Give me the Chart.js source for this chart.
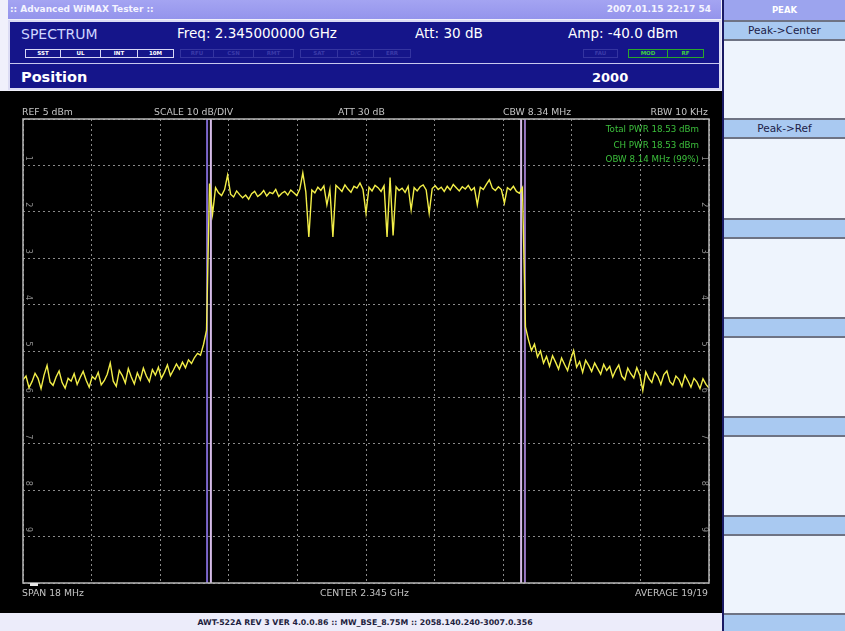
<!DOCTYPE html>
<html>
<head>
<meta charset="utf-8">
<title>Advanced WiMAX Tester - Spectrum</title>
<script src="https://cdn.jsdelivr.net/npm/chart.js@4.4.1/dist/chart.umd.min.js"></script>
<style>
  html, body { margin: 0; padding: 0; }
  body {
    width: 845px; height: 631px; position: relative; overflow: hidden;
    background: #000; font-family: "DejaVu Sans", Verdana, sans-serif;
  }
  .abs { position: absolute; white-space: nowrap; line-height: 1; }
  .hdr { color: #ffffff; font-size: 13.5px; }
  .lbl { color: #c4c4c4; font-size: 9.3px; }
  .grn { color: #3cc03c; font-size: 8.7px; text-align: right; right: 146px; }
  .btn {
    position: absolute; box-sizing: border-box; height: 9px;
    border: 1px solid #d8d8f6; background: #15158a;
    color: #ffffff; font-size: 5.5px; font-weight: bold; text-align: center; line-height: 7px;
  }
  .btn.dim { border-color: #3434a0; color: #3a3aa8; }
  .btn.on { border-color: #2aa82a; color: #40d040; }
  .side {
    position: absolute; left: 724px; width: 121px; box-sizing: border-box;
    background: #a9c9f1; border-top: 2px solid #6e7384; border-bottom: 2px solid #6e7384;
    color: #1c1c48; font-size: 10.5px; text-align: center;
  }
</style>
</head>
<body>
  <!-- top status area -->
  <div class="abs" style="left:0;top:0;width:722px;height:91px;background:#f0f0fb;"></div>
  <div class="abs" style="left:8px;top:0;width:713px;height:19px;background:linear-gradient(#a4a4f2,#9494ec);"></div>
  <div class="abs" style="left:10px;top:5px;color:#f4f4ff;font-size:9px;font-weight:bold;">:: Advanced WiMAX Tester ::</div>
  <div class="abs" style="right:134px;top:5px;color:#f4f4ff;font-size:9px;font-weight:bold;">2007.01.15 22:17 54</div>

  <div class="abs" style="left:8px;top:20px;width:713px;height:70px;box-sizing:border-box;background:#15158a;border:2px solid #dcdcf4;"></div>
  <div class="abs" style="left:10px;top:63px;width:709px;height:1px;background:#c8c8ee;"></div>

  <div class="abs hdr" style="left:21px;top:27px;font-size:14px;color:#cfd6ff;">SPECTRUM</div>
  <div class="abs hdr" style="left:177px;top:27px;">Freq: 2.345000000 GHz</div>
  <div class="abs hdr" style="left:415px;top:27px;">Att: 30 dB</div>
  <div class="abs hdr" style="left:568px;top:27px;">Amp: -40.0 dBm</div>

  <div class="btn" style="left:25px;top:49px;width:36px;">SST</div>
  <div class="btn" style="left:60px;top:49px;width:41px;">UL</div>
  <div class="btn" style="left:100px;top:49px;width:38px;">INT</div>
  <div class="btn" style="left:137px;top:49px;width:37px;">10M</div>
  <div class="btn dim" style="left:180px;top:49px;width:34px;">RFU</div>
  <div class="btn dim" style="left:213px;top:49px;width:41px;">CSN</div>
  <div class="btn dim" style="left:253px;top:49px;width:41px;">RMT</div>
  <div class="btn dim" style="left:300px;top:49px;width:38px;">SAT</div>
  <div class="btn dim" style="left:337px;top:49px;width:37px;">D/C</div>
  <div class="btn dim" style="left:373px;top:49px;width:38px;">ERR</div>
  <div class="btn dim" style="left:583px;top:49px;width:35px;">FAU</div>
  <div class="btn on" style="left:628px;top:49px;width:40px;">MOD</div>
  <div class="btn on" style="left:667px;top:49px;width:37px;">RF</div>

  <div class="abs" style="left:21px;top:70px;color:#fff;font-size:14.5px;font-weight:bold;">Position</div>
  <div class="abs" style="left:592px;top:71px;color:#fff;font-size:13px;font-weight:bold;">2000</div>

  <!-- spectrum display -->
  <div class="abs" style="left:0;top:91px;width:722px;height:522px;background:#000;">
    <canvas id="spectrum" width="722" height="522"></canvas>
  </div>

  <div class="abs lbl" style="left:22px;top:107px;">REF 5 dBm</div>
  <div class="abs lbl" style="left:154px;top:107px;">SCALE 10 dB/DIV</div>
  <div class="abs lbl" style="left:338px;top:107px;">ATT 30 dB</div>
  <div class="abs lbl" style="left:503px;top:107px;">CBW 8.34 MHz</div>
  <div class="abs lbl" style="right:137px;top:107px;">RBW 10 KHz</div>

  <div class="abs grn" style="top:125px;">Total PWR 18.53 dBm</div>
  <div class="abs grn" style="top:141px;">CH PWR 18.53 dBm</div>
  <div class="abs grn" style="top:155px;">OBW 8.14 MHz (99%)</div>

  <div class="abs" style="left:30px;top:583px;width:8px;height:3px;background:#e8e8e8;"></div>

  <div class="abs lbl" style="left:22px;top:588px;">SPAN 18 MHz</div>
  <div class="abs lbl" style="left:320px;top:588px;">CENTER 2.345 GHz</div>
  <div class="abs lbl" style="right:137px;top:588px;">AVERAGE 19/19</div>

  <!-- footer -->
  <div class="abs" style="left:0;top:613px;width:722px;height:18px;background:#ececfa;"></div>
  <div class="abs" style="left:0;top:619px;width:730px;text-align:center;color:#1e1e40;font-size:7.8px;font-weight:bold;">AWT-522A REV 3 VER 4.0.0.86 :: MW_BSE_8.75M :: 2058.140.240-3007.0.356</div>

  <!-- soft-key panel -->
  <div class="abs" style="left:722px;top:0;width:123px;height:631px;background:#eef4fd;border-left:2px solid #1a1a64;box-sizing:border-box;"></div>
  <div class="abs" style="left:724px;top:0;width:121px;height:20px;background:#9ca4ee;color:#fff;font-size:8.5px;font-weight:bold;text-align:center;line-height:20px;">PEAK</div>
  <div class="side" style="top:20px;height:21px;line-height:17px;">Peak-&gt;Center</div>
  <div class="side" style="top:118px;height:21px;line-height:17px;">Peak-&gt;Ref</div>
  <div class="side" style="top:218px;height:21px;"></div>
  <div class="side" style="top:317px;height:21px;"></div>
  <div class="side" style="top:416px;height:21px;"></div>
  <div class="side" style="top:515px;height:21px;"></div>
  <div class="side" style="top:613px;height:20px;border-bottom:none;"></div>

<script>
// Analyzer settings
const CENTER_MHZ = 2345;
const SPAN_MHZ = 18;
const REF_DBM = 5;
const DB_PER_DIV = 10;
const DIVISIONS = 10;
const CBW_MHZ = 8.34;
const OBW_MHZ = 8.14;
const GRID_DIGITS = ['1', '2', '3', '4', '5', '6', '7', '8', '9'];

// Averaged trace, dBm, evenly spaced sweep points across the span
const SWEEP_LOWER = [
  -51.2, -50.4, -52.9, -51.6, -49.8, -50.9, -53.1, -50.2, -48.1, -51.7,
  -52.4, -50.6, -49.3, -51.8, -53.0, -50.9, -51.5, -49.9, -52.2, -50.7,
  -49.4, -51.3, -52.8, -50.5, -51.1, -49.6, -52.3, -51.4, -50.0, -47.6,
  -51.5, -52.6, -49.2, -50.3, -51.9, -48.8, -50.6, -52.1, -49.7, -51.2,
  -48.7, -50.4, -51.6, -49.0, -50.2, -48.5, -50.9, -49.6, -48.0, -50.3,
  -49.1, -47.8, -48.9, -47.4, -48.6, -46.9, -47.7, -46.4, -45.5, -45.9,
  -43.6, -40.5
];
const SWEEP_CHANNEL = [
  -8.9, -15.5, -9.8, -10.9, -11.5, -10.2, -7.1, -11.2, -11.8, -10.5,
  -11.3, -12.0, -11.4, -12.3, -11.1, -10.6, -11.7, -11.2, -10.4, -11.6,
  -10.8, -11.1, -10.2, -11.7, -11.0, -10.6, -11.4, -10.3, -10.9, -11.5,
  -10.1, -6.6, -10.7, -20.4, -10.3, -10.9, -9.7, -10.4, -9.4, -13.5,
  -10.2, -20.4, -9.3, -9.9, -10.6, -9.2, -10.1, -10.8, -9.5, -9.9,
  -8.8, -10.2, -15.3, -9.7, -10.5, -9.3, -9.8, -10.6, -9.4, -20.4,
  -7.6, -20.1, -9.6, -10.4, -9.9, -10.8, -9.5, -14.6, -9.8, -10.5,
  -9.6, -9.2, -10.3, -15.3, -10.0, -9.4, -10.2, -9.7, -10.6, -9.5,
  -10.3, -9.1, -9.8, -10.5, -9.6, -10.1, -9.3, -10.4, -9.8, -13.5,
  -9.7, -10.2, -9.1, -8.1, -9.9, -10.4, -9.6, -10.2, -13.1, -9.8,
  -10.3, -9.5, -10.6, -11.0, -9.8
];
const SWEEP_UPPER = [
  -39.8, -42.6, -44.9, -43.5, -46.3, -45.0, -47.6, -46.2, -48.3, -46.0,
  -47.4, -48.9, -46.5, -47.9, -49.2, -46.8, -44.9, -48.5, -47.3, -49.6,
  -47.0, -48.1, -49.4, -47.6, -48.8, -50.0, -47.9, -49.2, -48.3, -50.6,
  -49.1, -48.0, -50.4, -51.2, -48.7, -49.9, -50.8, -48.6, -50.2, -53.5,
  -49.5, -50.9, -51.8, -49.6, -50.5, -52.2, -50.1, -49.3, -51.6, -52.3,
  -50.4, -51.1, -52.6, -50.2, -51.4, -52.8, -50.9, -51.7, -53.1, -51.0,
  -52.2, -53.0
];

const traceDbm = SWEEP_LOWER.concat(SWEEP_CHANNEL, SWEEP_UPPER);
const startMhz = CENTER_MHZ - SPAN_MHZ / 2;
const stopMhz = CENTER_MHZ + SPAN_MHZ / 2;
const stepMhz = SPAN_MHZ / (traceDbm.length - 1);
const tracePoints = traceDbm.map((v, i) => ({ x: startMhz + i * stepMhz, y: v }));

const bottomDbm = REF_DBM - DB_PER_DIV * DIVISIONS;
const markerLine = f => [{ x: f, y: bottomDbm }, { x: f, y: REF_DBM }];

// Frame around the graticule
const framePlugin = {
  id: 'frame',
  afterDatasetsDraw(chart) {
    const a = chart.chartArea, ctx = chart.ctx;
    ctx.save();
    ctx.strokeStyle = '#b8b8b8';
    ctx.lineWidth = 1.5;
    ctx.strokeRect(a.left, a.top, a.right - a.left, a.bottom - a.top);
    ctx.restore();
  }
};

// Division numbers along both edges of the graticule
const divisionDigits = {
  id: 'divisionDigits',
  beforeDatasetsDraw(chart) {
    const a = chart.chartArea, ctx = chart.ctx, y = chart.scales.y;
    ctx.save();
    ctx.fillStyle = '#8e8e8e';
    ctx.font = '8px "DejaVu Sans"';
    ctx.textAlign = 'center';
    ctx.textBaseline = 'middle';
    GRID_DIGITS.forEach((d, k) => {
      const py = y.getPixelForValue(REF_DBM - DB_PER_DIV * (k + 1)) - 7;
      [a.left + 5, a.right - 5].forEach(px => {
        ctx.save();
        ctx.translate(px, py);
        ctx.rotate(Math.PI / 2);
        ctx.fillText(d, 0, 0);
        ctx.restore();
      });
    });
    ctx.restore();
  }
};

const lineDefaults = { pointRadius: 0, tension: 0, fill: false };

new Chart(document.getElementById('spectrum'), {
  type: 'line',
  data: {
    datasets: [
      Object.assign({ label: 'Trace', data: tracePoints, borderColor: '#f2ee48', borderWidth: 1.4 }, lineDefaults),
      Object.assign({ label: 'OBW low', data: markerLine(CENTER_MHZ - OBW_MHZ / 2), borderColor: '#d6bce8', borderWidth: 2 }, lineDefaults),
      Object.assign({ label: 'OBW high', data: markerLine(CENTER_MHZ + OBW_MHZ / 2), borderColor: '#d6bce8', borderWidth: 2 }, lineDefaults),
      Object.assign({ label: 'CBW low', data: markerLine(CENTER_MHZ - CBW_MHZ / 2), borderColor: '#7c66cc', borderWidth: 2 }, lineDefaults),
      Object.assign({ label: 'CBW high', data: markerLine(CENTER_MHZ + CBW_MHZ / 2), borderColor: '#9a78c4', borderWidth: 2 }, lineDefaults)
    ]
  },
  options: {
    responsive: false,
    animation: false,
    devicePixelRatio: 1,
    layout: { padding: { left: 23, top: 28, right: 13, bottom: 30 } },
    plugins: { legend: { display: false }, tooltip: { enabled: false } },
    scales: {
      x: {
        type: 'linear', min: startMhz, max: stopMhz,
        ticks: { display: false, stepSize: SPAN_MHZ / DIVISIONS },
        grid: { color: '#8a8a8a', lineWidth: 1, drawTicks: false },
        border: { display: false, dash: [2, 3] }
      },
      y: {
        type: 'linear', min: bottomDbm, max: REF_DBM,
        ticks: { display: false, stepSize: DB_PER_DIV },
        grid: { color: '#8a8a8a', lineWidth: 1, drawTicks: false },
        border: { display: false, dash: [2, 3] }
      }
    }
  },
  plugins: [divisionDigits, framePlugin]
});
</script>
</body>
</html>
